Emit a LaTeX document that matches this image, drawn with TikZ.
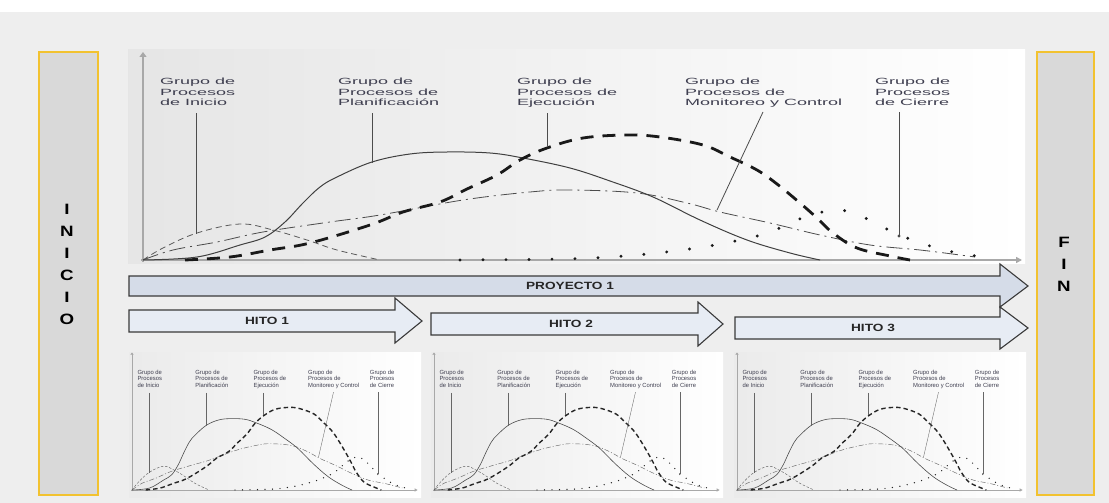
\documentclass[tikz,border=0pt]{standalone}
\usepackage{fontspec}
\setmainfont{Liberation Sans}
\usetikzlibrary{arrows.meta}

\definecolor{bgc}{HTML}{EEEEEE}
\definecolor{barfill}{HTML}{D9D9D9}
\definecolor{barline}{HTML}{F2C230}
\definecolor{projfill}{HTML}{D5DCE8}
\definecolor{hitofill}{HTML}{E7ECF4}
\definecolor{arrline}{HTML}{3A3A3A}
\definecolor{lblc}{HTML}{3F3F50}
\definecolor{axisc}{HTML}{A8A8A8}

% three-line group caption, set wide
\newcommand{\grouplabel}[1]{\scalebox{2}[1]{\begin{tabular}{@{}l@{}}#1\end{tabular}}}
\newcommand{\wideword}[1]{\scalebox{1.3}[1]{#1}}
\newcommand{\stackletters}[1]{\scalebox{1.25}[1]{\begin{tabular}{@{}c@{}}#1\end{tabular}}}

\tikzset{
  axisv/.style={draw=axisc, line width=2.6pt, -{Triangle[length=5pt,width=7pt]}},
  axish/.style={draw=axisc, line width=1.6pt, -{Triangle[length=6pt,width=6pt]}},
  cini/.style={draw=black!65, line width=0.8pt, dash pattern=on 6pt off 4pt},
  cplan/.style={draw=black!75, line width=1pt},
  cejec/.style={draw=black!90, line width=2.8pt, dash pattern=on 13pt off 9pt},
  cmon/.style={draw=black!70, line width=0.8pt, dash pattern=on 16pt off 5pt on 2pt off 5pt},
  ccie/.style={draw=black!90, line width=3.2pt, line cap=round, dash pattern=on 0pt off 23pt},
  leader/.style={draw=black!70, line width=0.8pt},
  lbl/.style={anchor=north west, inner sep=0pt, text=lblc, font=\fontsize{9}{10.5}\selectfont},
  smallchart/.style={
    axisv/.style={draw=axisc, line width=1pt, -{Triangle[length=2pt,width=3pt]}},
    axish/.style={draw=axisc, line width=0.7pt, -{Triangle[length=3pt,width=3pt]}},
    cini/.style={draw=black!60, line width=0.45pt, dash pattern=on 2.5pt off 1.7pt},
    cplan/.style={draw=black!70, line width=0.6pt},
    cejec/.style={draw=black!85, line width=1.4pt, dash pattern=on 4.5pt off 3pt},
    cmon/.style={draw=black!60, line width=0.45pt, dash pattern=on 5pt off 2pt on 1pt off 2pt},
    ccie/.style={draw=black!85, line width=1.4pt, line cap=round, dash pattern=on 0pt off 7.5pt},
    leader/.style={draw=black!60, line width=0.35pt},
    every node/.append style={transform shape}
  },
  bar/.style={draw=barline, line width=1.2pt, fill=barfill},
  barletters/.style={inner sep=0pt, font=\fontsize{15}{22}\selectfont\bfseries},
  projarrow/.style={draw=arrline, line width=1.1pt, fill=projfill, line join=miter},
  hitoarrow/.style={draw=arrline, line width=1.1pt, fill=hitofill, line join=miter},
  arrtext/.style={inner sep=0pt, text=black!85, font=\fontsize{10.5}{12}\selectfont\bfseries}
}

% the process-group chart, in the coordinates of the large panel
\newcommand{\processchart}{%
  \draw[axisv] (143,262) -- (143,52);
  \draw[axish] (141,260) -- (1022,260);
  \draw[cini] plot[smooth, tension=0.6] coordinates {(143,260) (163,248) (197,233) (240,224) (273,230) (307,240) (337,250) (380,260)};
  \draw[cmon] plot[smooth, tension=0.6] coordinates {(143,260) (173,250) (217,242) (263,232) (330,222) (380,215) (463,200) (530,192) (570,190) (637,193) (687,203) (720,212) (770,223) (820,235) (870,245) (920,250) (960,255) (975,257)};
  \draw[cplan] plot[smooth, tension=0.6] coordinates {(143,260) (197,257) (240,245) (265,237) (285,222) (303,203) (320,187) (337,177) (372,162) (410,154) (447,152) (490,153) (523,158) (570,168) (610,181) (653,197) (700,220) (747,240) (790,253) (820,260)};
  \draw[cejec] plot[smooth, tension=0.6] coordinates {(185,260) (230,257) (270,250) (310,243) (370,225) (403,212) (440,202) (467,189) (497,175) (520,160) (547,148) (583,138) (627,135) (660,137) (703,145) (730,157) (757,170) (777,184) (800,203) (817,218) (833,233) (857,248) (890,256) (910,260)};
  \draw[ccie] plot[smooth, tension=0.6] coordinates {(460,260) (560,259) (610,257) (657,253) (703,247) (740,240) (770,232) (805,217) (838,210) (865,218) (895,233) (930,246) (963,254) (995,258)};
  \node[lbl] (lini) at (160,77) {\grouplabel{Grupo de\\Procesos\\de Inicio}};
  \node[lbl] (lplan) at (338,77) {\grouplabel{Grupo de\\Procesos de\\Planificación}};
  \node[lbl] (lejec) at (517,77) {\grouplabel{Grupo de\\Procesos de\\Ejecución}};
  \node[lbl] (lmon) at (685,77) {\grouplabel{Grupo de\\Procesos de\\Monitoreo y Control}};
  \node[lbl] (lcie) at (875,77) {\grouplabel{Grupo de\\Procesos\\de Cierre}};
  \coordinate (ini-a) at (196,113);  \coordinate (ini-b) at (196,234);
  \coordinate (plan-a) at (372,113); \coordinate (plan-b) at (372,163);
  \coordinate (ejec-a) at (547,113); \coordinate (ejec-b) at (547,147);
  \coordinate (mon-a) at (763,112);  \coordinate (mon-b) at (717,210);
  \coordinate (cie-a) at (899,112);  \coordinate (cie-b) at (899,236);
  \draw[leader] (ini-a) -- (ini-b);
  \draw[leader] (plan-a) -- (plan-b);
  \draw[leader] (ejec-a) -- (ejec-b);
  \draw[leader] (mon-a) -- (mon-b);
  \draw[leader] (cie-a) -- (cie-b);
  \fill[black!70] (cie-b) circle (1.6);
}

\begin{document}
\begin{tikzpicture}[x=1pt, y=-1pt]
\useasboundingbox (0,0) rectangle (1109,503);
\fill[white] (0,0) rectangle (1109,503);
\fill[bgc] (0,12) rectangle (1109,503);

% start and end bars
\draw[bar] (39,52) rectangle (98,495);
\node[barletters] (inicio) at (67,265) {\stackletters{I\\N\\I\\C\\I\\O}};
\draw[bar] (1037,52) rectangle (1094,495);
\node[barletters] (fin) at (1064,265) {\stackletters{F\\I\\N}};

% large chart
\shade[left color=black!10, right color=white] (128,50) rectangle (1025,263);
\begin{scope}[name prefix=big-]
  \processchart
\end{scope}

% project and milestone arrows
\draw[projarrow] (129,276) -- (1000,276) -- (1000,264) -- (1028,286) -- (1000,307) -- (1000,296) -- (129,296) -- cycle;
\node[arrtext] (proyecto) at (570,286) {\wideword{PROYECTO 1}};
\draw[hitoarrow] (129,310) -- (395,310) -- (395,298) -- (422,321) -- (395,343) -- (395,332) -- (129,332) -- cycle;
\node[arrtext] (hito1) at (267,321) {\wideword{HITO 1}};
\draw[hitoarrow] (431,313) -- (698,313) -- (698,302) -- (723,324) -- (698,346) -- (698,335) -- (431,335) -- cycle;
\node[arrtext] (hito2) at (571,324) {\wideword{HITO 2}};
\draw[hitoarrow] (735,317) -- (1000,317) -- (1000,307) -- (1028,328) -- (1000,349) -- (1000,339) -- (735,339) -- cycle;
\node[arrtext] (hito3) at (873,328) {\wideword{HITO 3}};

% small charts, one per milestone
\foreach \xo/\nm in {132/s1, 434/s2, 737/s3}{
  \shade[left color=black!8, right color=white] (\xo-3,352) rectangle (\xo+289,497);
  \begin{scope}[name prefix=\nm-, shift={(\xo,490)}, xscale=0.325, yscale=0.661, shift={(-143,-260)}, smallchart]
    \processchart
  \end{scope}
}
\end{tikzpicture}
\end{document}
